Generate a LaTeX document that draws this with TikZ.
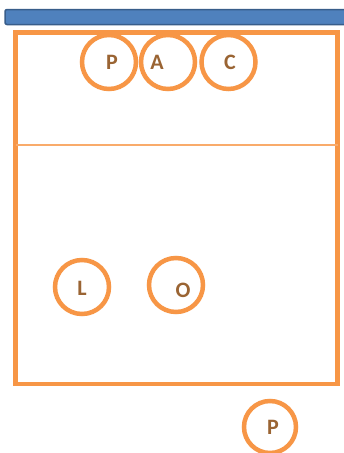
\documentclass[tikz,border=0pt]{standalone}
\usepackage{fontspec}
\setmainfont{Carlito}
\definecolor{courtorange}{HTML}{F79646}
\definecolor{netblue}{HTML}{4F81BD}
\definecolor{netborder}{HTML}{385D8A}
\definecolor{lettercol}{HTML}{9A6433}
\begin{document}
\begin{tikzpicture}[x=1pt,y=-1pt,
  player/.style={circle,draw=courtorange,line width=4.5pt,minimum size=54pt,inner sep=0pt,fill=white},
  letter/.style={text=lettercol,font=\bfseries\fontsize{22}{22}\selectfont,inner sep=0pt}]
\useasboundingbox (0,0) rectangle (344,453);
\fill[white] (0,0) rectangle (344,453);
% net
\draw[netborder,fill=netblue,line width=1.5pt,rounded corners=2pt] (5,9.5) rectangle (352,24.5);
% court
\draw[courtorange,line width=4.5pt] (15.5,32.5) rectangle (337.5,384);
\coordinate (la) at (15.5,145);
\coordinate (lb) at (337.5,145);
\draw[courtorange!80,line width=1.2pt] (la) -- (lb);
% players
\node[player] (cP) at (109,62) {};
\node[player] (cA) at (168,62) {};
\node[player] (cC) at (228.5,62) {};
\node[player] (cL) at (82,287) {};
\node[player] (cO) at (176,285) {};
\node[player,minimum size=52pt] (cP2) at (270,427) {};
\node[letter] (tP) at (112,62) {P};
\node[letter] (tA) at (157,62) {A};
\node[letter] (tC) at (230,62) {C};
\node[letter] (tL) at (82,288) {L};
\node[letter] (tO) at (183,290) {O};
\node[letter] (tP2) at (273,427) {P};
\end{tikzpicture}
\end{document}
